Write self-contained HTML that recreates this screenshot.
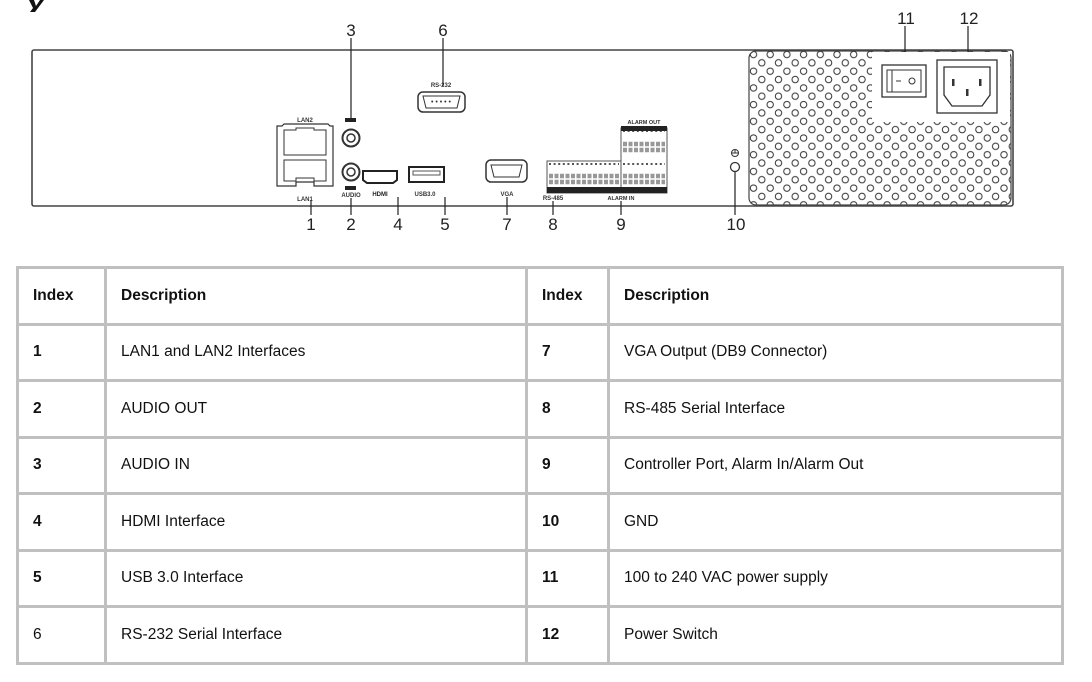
<!DOCTYPE html>
<html><head><meta charset="utf-8"><style>
html,body{margin:0;padding:0;background:#fff;width:1092px;height:682px;overflow:hidden;font-family:"Liberation Sans",Arial,sans-serif;}
svg{position:absolute;left:0;top:0}
table{position:absolute;left:16px;top:266px;border-collapse:collapse;font-size:15.5px;color:#111;table-layout:fixed;}
td{border:3px solid #c0c0c0;height:56.5px;padding:0 0 0 14px;vertical-align:middle;box-sizing:border-box;}
td.b{font-weight:bold}
</style></head><body>
<svg width="1092" height="266" viewBox="0 0 1092 266">
<defs>
<pattern id="holes" x="749" y="50" width="16.7" height="16.7" patternUnits="userSpaceOnUse">
<circle cx="4.5" cy="4.5" r="3.2" fill="none" stroke="#333" stroke-width="1"/>
<circle cx="12.8" cy="12.8" r="3.2" fill="none" stroke="#333" stroke-width="1"/>
</pattern>
</defs>
<path d="M29 0 L34 0 L36 6 L40 0 L44 0 L35 12 L30 12 L33 8 Z" fill="#111"/>
<rect x="32" y="50" width="981" height="156" fill="#fff" stroke="#444" stroke-width="1.6" rx="2"/>
<rect x="749" y="51" width="262" height="154" rx="7" fill="url(#holes)" stroke="#444" stroke-width="1.2"/>
<rect x="872" y="52" width="138" height="70" fill="#fff"/>
<rect x="882" y="65" width="44" height="32" fill="#fff" stroke="#333" stroke-width="1.3"/>
<rect x="887" y="70" width="34" height="22" fill="#fff" stroke="#333" stroke-width="1"/>
<path d="M892 70 V92" stroke="#333"/>
<path d="M896 81 h5" stroke="#333"/>
<circle cx="912" cy="81" r="3" fill="none" stroke="#333"/>
<rect x="937" y="60" width="60" height="53" fill="#fff" stroke="#333" stroke-width="1.3"/>
<path d="M944 67 H990 V95 L982 106 H952 L944 95 Z" fill="#fff" stroke="#333" stroke-width="1.3"/>
<rect x="952" y="79" width="2.5" height="7" fill="#333"/><rect x="979" y="79" width="2.5" height="7" fill="#333"/><rect x="966" y="89" width="2.5" height="7" fill="#333"/>
<text x="305" y="122" font-size="6" text-anchor="middle" font-weight="bold" fill="#333">LAN2</text>
<path d="M277 186 V126 H282 L284 124 H328 L330 126 H333 V186 H314 V182 H296 V186 Z" fill="#fff" stroke="#333" stroke-width="1.2"/>
<path d="M284 155 V130 H296 V128 H314 V130 H326 V155 Z" fill="none" stroke="#333"/>
<path d="M284 181 V160 H326 V181 H314 V178 H296 V181 Z" fill="none" stroke="#333"/>
<text x="305" y="201" font-size="6" text-anchor="middle" font-weight="bold" fill="#333">LAN1</text>
<rect x="345" y="118" width="11" height="4" fill="#222"/>
<circle cx="351" cy="138" r="8.5" fill="#fff" stroke="#333" stroke-width="2"/><circle cx="351" cy="138" r="4" fill="none" stroke="#333" stroke-width="1.5"/>
<circle cx="351" cy="172" r="8.5" fill="#fff" stroke="#333" stroke-width="2"/><circle cx="351" cy="172" r="4" fill="none" stroke="#333" stroke-width="1.5"/>
<rect x="345" y="186" width="11" height="4" fill="#222"/>
<text x="351" y="197" font-size="6" text-anchor="middle" font-weight="bold" fill="#333">AUDIO</text>
<path d="M363 171 H397 V180 L393 183 H367 L363 180 Z" fill="#fff" stroke="#222" stroke-width="2"/>
<text x="380" y="196" font-size="6" text-anchor="middle" font-weight="bold" fill="#222">HDMI</text>
<rect x="409" y="167" width="35" height="15" fill="#fff" stroke="#222" stroke-width="2"/>
<rect x="413" y="171" width="27" height="4" fill="none" stroke="#555"/>
<text x="425" y="196" font-size="6" text-anchor="middle" font-weight="bold" fill="#333">USB3.0</text>
<rect x="486" y="160" width="41" height="22" rx="5" fill="#fff" stroke="#333" stroke-width="1.5"/>
<path d="M491 165 H522 L519 177 H494 Z" fill="none" stroke="#333"/>
<text x="507" y="196" font-size="6" text-anchor="middle" font-weight="bold" fill="#333">VGA</text>
<text x="441" y="87" font-size="6" text-anchor="middle" font-weight="bold" fill="#333">RS-232</text>
<rect x="418" y="92" width="47" height="20" rx="5" fill="#fff" stroke="#333" stroke-width="1.5"/>
<path d="M423 96 H460 L457 108 H426 Z" fill="none" stroke="#333"/>
<text x="441" y="104" font-size="7" text-anchor="middle" fill="#333">• • • • •</text>
<rect x="547" y="161" width="74" height="32" fill="#fff" stroke="#555"/>
<rect x="621" y="128" width="46" height="65" fill="#fff" stroke="#555"/>
<path d="M549 164 H619 M623 131 H665 M623 164 H665" stroke="#555" stroke-width="2" stroke-dasharray="2 2.6"/>
<path d="M549 176 H619 M549 182 H619 M623 144 H665 M623 150 H665 M623 176 H665 M623 182 H665" stroke="#444" stroke-width="4.5" stroke-dasharray="4 1.5" opacity=".55"/>
<rect x="547" y="187" width="120" height="6" fill="#222"/>
<rect x="621" y="126" width="46" height="5" fill="#222"/>
<text x="644" y="124" font-size="5.5" text-anchor="middle" font-weight="bold" fill="#333">ALARM OUT</text>
<text x="553" y="200" font-size="6" text-anchor="middle" font-weight="bold" fill="#333">RS-485</text>
<text x="621" y="200" font-size="5.5" text-anchor="middle" font-weight="bold" fill="#333">ALARM IN</text>
<circle cx="735" cy="153" r="3.5" fill="none" stroke="#333"/><path d="M731 153 h8 M735 150 v3" stroke="#333"/>
<circle cx="735" cy="167" r="4.5" fill="#fff" stroke="#333" stroke-width="1.3"/>
<g stroke="#222" stroke-width="1.2">
<path d="M351 38 V118 M443 38 V86 M311 200 V215 M351 198 V215 M398 197 V215 M445 197 V215 M507 197 V215 M553 201 V215 M621 201 V215 M735 172 V215 M905 26 V52 M968 26 V52"/>
</g>
<g font-family="Liberation Sans,sans-serif" font-size="17" fill="#222" text-anchor="middle">
<text x="351" y="36">3</text><text x="443" y="36">6</text>
<text x="311" y="230">1</text><text x="351" y="230">2</text><text x="398" y="230">4</text><text x="445" y="230">5</text>
<text x="507" y="230">7</text><text x="553" y="230">8</text><text x="621" y="230">9</text><text x="736" y="230">10</text>
<text x="906" y="24">11</text><text x="969" y="24">12</text>
</g>
</svg>
<table style="width:1045px">
<colgroup><col style="width:88px"><col style="width:421px"><col style="width:82px"><col style="width:454px"></colgroup>
<tr><td class="b">Index</td><td class="b">Description</td><td class="b">Index</td><td class="b">Description</td></tr>
<tr><td class="b">1</td><td>LAN1 and LAN2 Interfaces</td><td class="b">7</td><td>VGA Output (DB9 Connector)</td></tr>
<tr><td class="b">2</td><td>AUDIO OUT</td><td class="b">8</td><td>RS-485 Serial Interface</td></tr>
<tr><td class="b">3</td><td>AUDIO IN</td><td class="b">9</td><td>Controller Port, Alarm In/Alarm Out</td></tr>
<tr><td class="b">4</td><td>HDMI Interface</td><td class="b">10</td><td>GND</td></tr>
<tr><td class="b">5</td><td>USB 3.0 Interface</td><td class="b">11</td><td>100 to 240 VAC power supply</td></tr>
<tr><td>6</td><td>RS-232 Serial Interface</td><td class="b">12</td><td>Power Switch</td></tr>
</table>
</body></html>
